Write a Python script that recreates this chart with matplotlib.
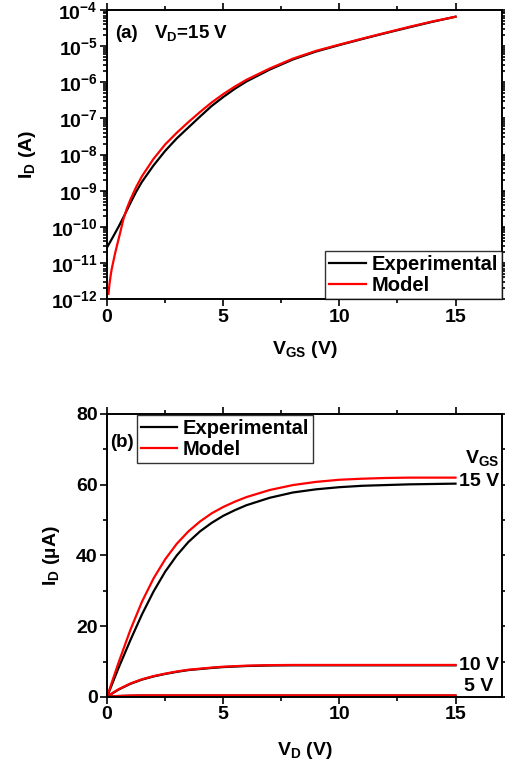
import matplotlib
matplotlib.use("Agg")
import matplotlib.pyplot as plt
from matplotlib.ticker import MultipleLocator, LogLocator, NullFormatter

plt.rcParams['font.family'] = ['Liberation Sans', 'DejaVu Sans']
plt.rcParams['font.weight'] = 'bold'
plt.rcParams['mathtext.fontset'] = 'custom'
plt.rcParams['mathtext.rm'] = 'Liberation Sans:bold'
plt.rcParams['mathtext.bf'] = 'Liberation Sans:bold'
plt.rcParams['mathtext.it'] = 'Liberation Sans:bold'
plt.rcParams['mathtext.default'] = 'bf'

# (a) transfer curve, V_D = 15 V
vgs_exp = [0, 0.25, 0.5, 0.75, 1, 1.25, 1.5, 2, 2.5, 3, 3.5, 4, 4.5, 5, 5.5, 6, 7, 8, 9, 10,
           11, 12, 13, 14, 15]
id_exp = [2.7e-11, 5.2e-11, 1.02e-10, 2.1e-10, 4.5e-10, 9.3e-10, 1.75e-9, 5.0e-9, 1.26e-8, 2.8e-8,
          5.6e-8, 1.12e-7, 2.2e-7, 3.9e-7, 6.6e-7, 1.05e-6, 2.24e-6, 4.27e-6, 7.1e-6, 1.07e-5,
          1.58e-5, 2.3e-5, 3.3e-5, 4.7e-5, 6.5e-5]
vgs_mod = [0.06, 0.1, 0.15, 0.2, 0.27, 0.35, 0.45, 0.55, 0.7, 0.85, 1, 1.25, 1.5, 2, 2.5, 3, 3.5,
           4, 4.5, 5, 5.5, 6, 7, 8, 9, 10, 11, 12, 13, 14, 15]
id_mod = [1.4e-12, 2.5e-12, 4.3e-12, 6.8e-12, 1.1e-11, 1.9e-11, 3.5e-11, 6.3e-11, 1.6e-10,
          3.2e-10, 5.6e-10, 1.25e-9, 2.5e-9, 7.6e-9, 1.9e-8, 4.0e-8, 7.9e-8, 1.5e-7, 2.75e-7,
          4.7e-7, 7.6e-7, 1.17e-6, 2.4e-6, 4.5e-6, 7.4e-6, 1.1e-5, 1.62e-5, 2.35e-5, 3.4e-5,
          4.8e-5, 6.5e-5]

# (b) output curves, I_D in uA
vd = [0, 0.25, 0.5, 1, 1.5, 2, 2.5, 3, 3.5, 4, 4.5, 5, 5.5, 6, 7, 8, 9, 10, 11, 12, 13, 14, 15]
exp_15 = [0, 4.2, 8.3, 16.0, 23.3, 29.8, 35.4, 40.0, 43.8, 46.8, 49.2, 51.2, 52.8, 54.2, 56.3,
          57.8, 58.7, 59.3, 59.7, 59.9, 60.1, 60.2, 60.3]
mod_15 = [0, 5.0, 9.8, 18.9, 26.9, 33.5, 38.9, 43.3, 46.8, 49.6, 51.9, 53.7, 55.2, 56.5, 58.5,
          59.9, 60.8, 61.4, 61.7, 61.9, 62.0, 62.0, 62.0]
exp_10 = [0, 1.1, 2.1, 3.7, 4.9, 5.8, 6.5, 7.1, 7.6, 7.9, 8.2, 8.45, 8.6, 8.75, 8.9, 8.95, 8.95,
          8.95, 8.95, 8.95, 8.95, 8.95, 8.95]
mod_10 = [0, 1.2, 2.2, 3.8, 5.0, 5.9, 6.6, 7.2, 7.7, 8.0, 8.3, 8.55, 8.7, 8.85, 9.0, 9.05, 9.05,
          9.05, 9.05, 9.05, 9.05, 9.05, 9.05]
exp_5 = [0, 0.15, 0.25, 0.35, 0.4, 0.4, 0.4, 0.4, 0.4, 0.4, 0.4, 0.4, 0.4, 0.4, 0.4, 0.4, 0.4,
         0.4, 0.4, 0.4, 0.4, 0.4, 0.4]
mod_5 = [0, 0.2, 0.3, 0.4, 0.45, 0.45, 0.45, 0.45, 0.45, 0.45, 0.45, 0.45, 0.45, 0.45, 0.45,
         0.45, 0.45, 0.45, 0.45, 0.45, 0.45, 0.45, 0.45]
vgs_labels = ['15 V', '10 V', '5 V']
vgs_label_pos = [(15.17, 61.0), (15.17, 9.0), (15.35, 3.1)]

fig = plt.figure(figsize=(5.05, 7.67), dpi=100)
ax1 = fig.add_axes([0.212, 0.610, 0.782, 0.377])
ax2 = fig.add_axes([0.212, 0.0913, 0.782, 0.369])


def style(ax):
    for s in ax.spines.values():
        s.set_linewidth(1.4)
    ax.tick_params(which='both', direction='out', top=True, right=True, width=1.2,
                   labelsize=14, pad=2)
    ax.tick_params(which='major', length=4.8)
    ax.tick_params(which='minor', length=3)
    for lab in ax.get_xticklabels() + ax.get_yticklabels():
        lab.set_fontweight('bold')


ax1.plot(vgs_exp, id_exp, color='black', lw=1.6, label='Experimental')
ax1.plot(vgs_mod, id_mod, color='red', lw=1.6, label='Model')
ax1.set_yscale('log')
ax1.set_xlim(0, 17)
ax1.set_ylim(1e-12, 1e-4)
ax1.xaxis.set_major_locator(MultipleLocator(5))
ax1.xaxis.set_minor_locator(MultipleLocator(2.5))
ax1.yaxis.set_major_locator(LogLocator(base=10, numticks=20))
ax1.yaxis.set_minor_locator(LogLocator(base=10, subs=range(2, 10), numticks=20))
ax1.yaxis.set_minor_formatter(NullFormatter())
ax1.set_xlabel('$V_{GS}$ (V)', fontsize=14, fontweight='bold', labelpad=10)
ax1.set_ylabel('$I_D$ (A)', fontsize=14, fontweight='bold', labelpad=9)
ax1.text(0.02, 0.92, '(a)', transform=ax1.transAxes, fontsize=13.5, fontweight='bold', va='center')
ax1.text(0.12, 0.92, '$V_D$=15 V', transform=ax1.transAxes, fontsize=13.5, fontweight='bold',
         va='center')
leg1 = ax1.legend(loc='lower right', frameon=True, fancybox=False, edgecolor='black',
                  handlelength=1.8, handletextpad=0.3, borderpad=0.2, labelspacing=0.1,
                  borderaxespad=0.0, prop={'weight': 'bold', 'size': 14.5})
leg1.get_frame().set_linewidth(1.0)
style(ax1)

ax2.plot(vd, exp_15, color='black', lw=1.6, label='Experimental')
ax2.plot(vd, mod_15, color='red', lw=1.6, label='Model')
ax2.plot(vd, exp_10, color='black', lw=1.6)
ax2.plot(vd, mod_10, color='red', lw=1.6)
ax2.plot(vd, exp_5, color='black', lw=1.6)
ax2.plot(vd, mod_5, color='red', lw=1.6)
ax2.set_xlim(0, 17)
ax2.set_ylim(0, 80)
ax2.xaxis.set_major_locator(MultipleLocator(5))
ax2.xaxis.set_minor_locator(MultipleLocator(2.5))
ax2.yaxis.set_major_locator(MultipleLocator(20))
ax2.yaxis.set_minor_locator(MultipleLocator(10))
ax2.set_xlabel('$V_D$ (V)', fontsize=14, fontweight='bold', labelpad=12)
ax2.set_ylabel('$I_D$ (µA)', fontsize=14, fontweight='bold', labelpad=10)
ax2.text(0.008, 0.9, '(b)', transform=ax2.transAxes, fontsize=13.5, fontweight='bold', va='center')
leg2 = ax2.legend(loc='upper left', bbox_to_anchor=(0.075, 0.995), frameon=True,
                  fancybox=False, edgecolor='black', handlelength=1.8, handletextpad=0.3,
                  borderpad=0.2, labelspacing=0.1, borderaxespad=0.0,
                  prop={'weight': 'bold', 'size': 14.5})
leg2.get_frame().set_linewidth(1.0)
ax2.text(15.43, 66.1, '$V_{GS}$', fontsize=14, fontweight='bold', va='baseline')
for lab, (xv, yv) in zip(vgs_labels, vgs_label_pos):
    ax2.text(xv, yv, lab, fontsize=14, fontweight='bold', va='center')
style(ax2)

fig.savefig('out.png', dpi=100)
